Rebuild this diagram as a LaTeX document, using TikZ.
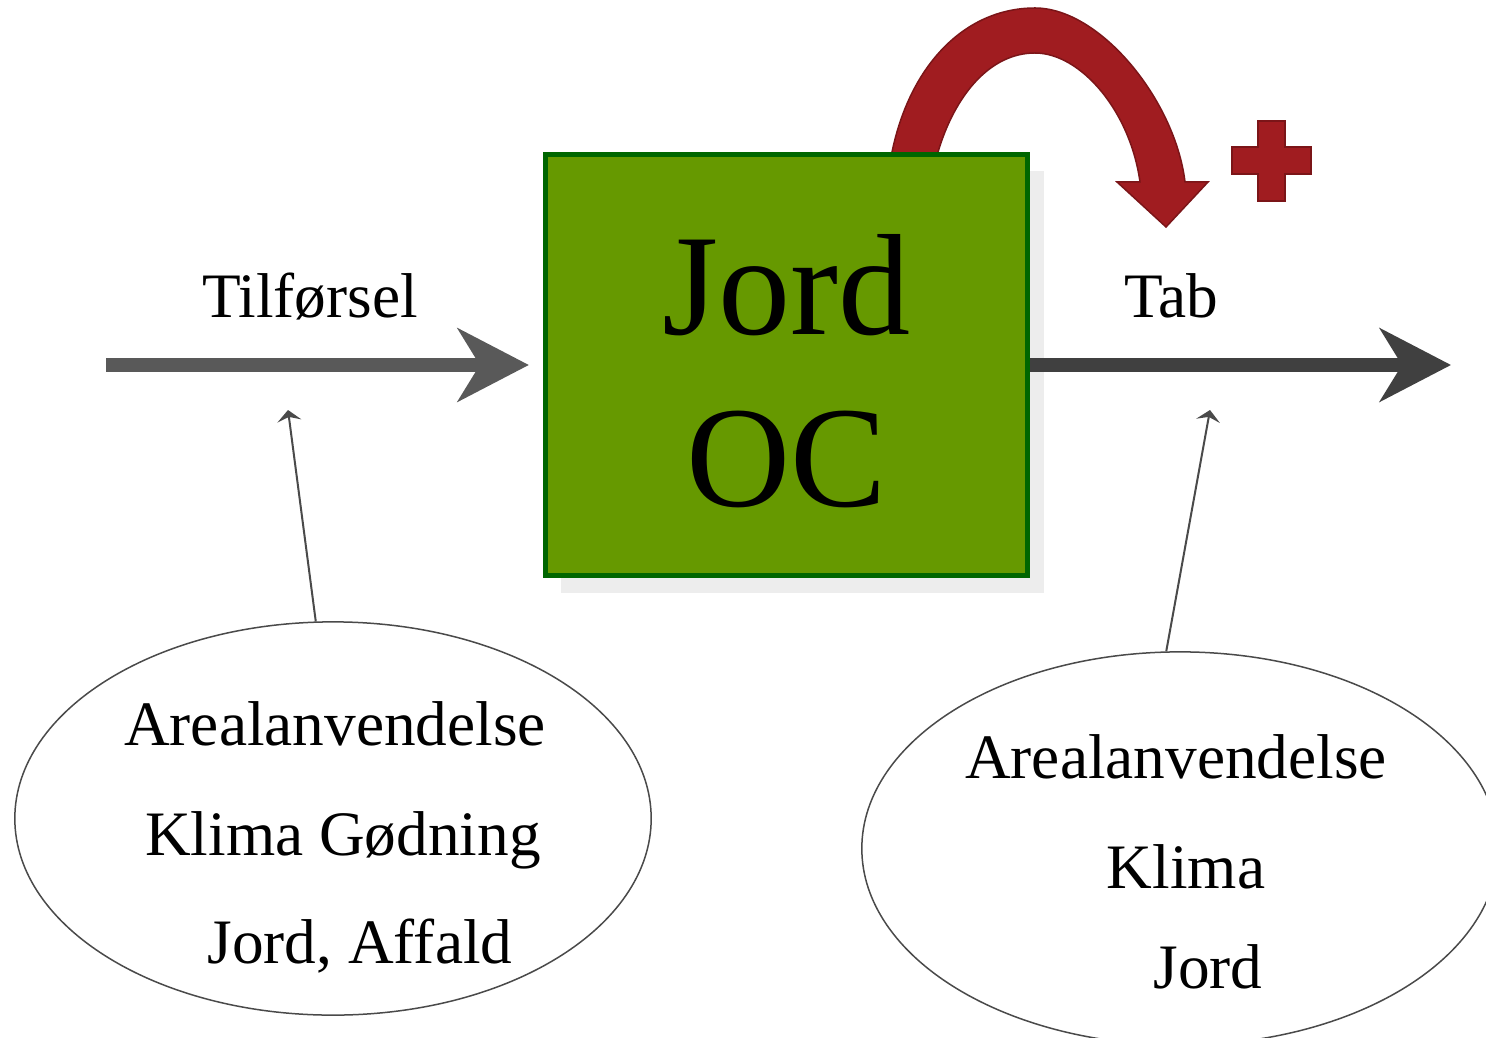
\documentclass[tikz,border=0pt]{standalone}
\usepackage{fontspec}
\setmainfont{Liberation Serif}
\usetikzlibrary{arrows.meta,shapes.geometric,shadows}

\definecolor{boxfill}{HTML}{669900}
\definecolor{boxline}{HTML}{006600}
\definecolor{loopfill}{HTML}{A01C20}
\definecolor{loopline}{HTML}{7B1518}
\definecolor{ingray}{HTML}{595959}
\definecolor{outgray}{HTML}{404040}
\definecolor{thingray}{HTML}{4A4A4A}

\tikzset{
  soilbox/.style={draw=boxline, fill=boxfill, line width=0.05cm, inner sep=0pt,
    minimum width=4.82cm, minimum height=4.21cm, align=center,
    font=\fontsize{41}{49}\selectfont,
    drop shadow={shadow xshift=0.16cm, shadow yshift=-0.17cm, fill=black!7, opacity=1}},
  flowarrow/.style={line width=0.14cm, -{Stealth[length=0.71cm, width=0.73cm, inset=0.22cm]}},
  factorell/.style={ellipse, draw=thingray, line width=0.015cm, inner sep=0pt,
    minimum width=6.36cm, minimum height=3.93cm},
  factorarrow/.style={draw=thingray, line width=0.02cm,
    -{Stealth[length=0.11cm, width=0.24cm, inset=0.04cm]}},
  lbl/.style={anchor=base, inner sep=0pt, font=\fontsize{18}{22}\selectfont},
  redshape/.style={fill=loopfill, draw=loopline, line width=0.015cm}
}

\newcommand\lowline[1]{\raisebox{-0.06cm}[\height][\depth]{#1}}

\begin{document}
\begin{tikzpicture}[x=0.01cm, y=-0.01cm]

\clip (0,0) rectangle (1486,1037);

\def \outx {1035}

\draw [redshape] (890,160) -- (892,152) .. controls (910,65) and (965,8) .. (\outx,8)
  .. controls (1100,8) and (1175,100) .. (1185,182) -- (1208,182) -- (1166,227) -- (1117,182)
  -- (1140,182) .. controls (1130,110) and (1080,53) .. (\outx,53)
  .. controls (990,53) and (955,95) .. (938,152) -- (936,160) -- cycle;

\draw [redshape] (1258,121) -- (1285,121) -- (1285,147) -- (1311,147) -- (1311,174) -- (1285,174)
  -- (1285,201) -- (1258,201) -- (1258,174) -- (1232,174) -- (1232,147) -- (1258,147) -- cycle;

\node [soilbox] (soil) at (786.5,365) {\lowline{Jord}\\\lowline{OC}};

\coordinate (instart) at (106,365);
\coordinate (outend) at (1451,365);
\coordinate (infocus) at (288,410);
\coordinate (outfocus) at (1210,410);

\draw [flowarrow, ingray, shorten >=0.14cm] (instart) -- (soil.west);
\draw [flowarrow, outgray] (soil.east) -- (outend);

\node [lbl] (intext) at (310,318) {Tilførsel};
\node [lbl] (outtext) at (1171,318) {Tab};

\node [factorell] (inell) at (333,818.5) {};
\node [factorell] (outell) at (1180,848.5) {};

\draw [factorarrow] (inell.95) -- (infocus);
\draw [factorarrow] (outell.94) -- (outfocus);

\node [lbl] (inone) at (335,745) {Arealanvendelse};
\node [lbl] (intwo) at (343,855) {Klima Gødning};
\node [lbl] (inthree) at (360,963) {Jord, Affald};

\node [lbl] (outone) at (1176,778) {Arealanvendelse};
\node [lbl] (outtwo) at (1186,888) {Klima};
\node [lbl] (outthree) at (1208,988) {Jord};

\end{tikzpicture}
\end{document}
